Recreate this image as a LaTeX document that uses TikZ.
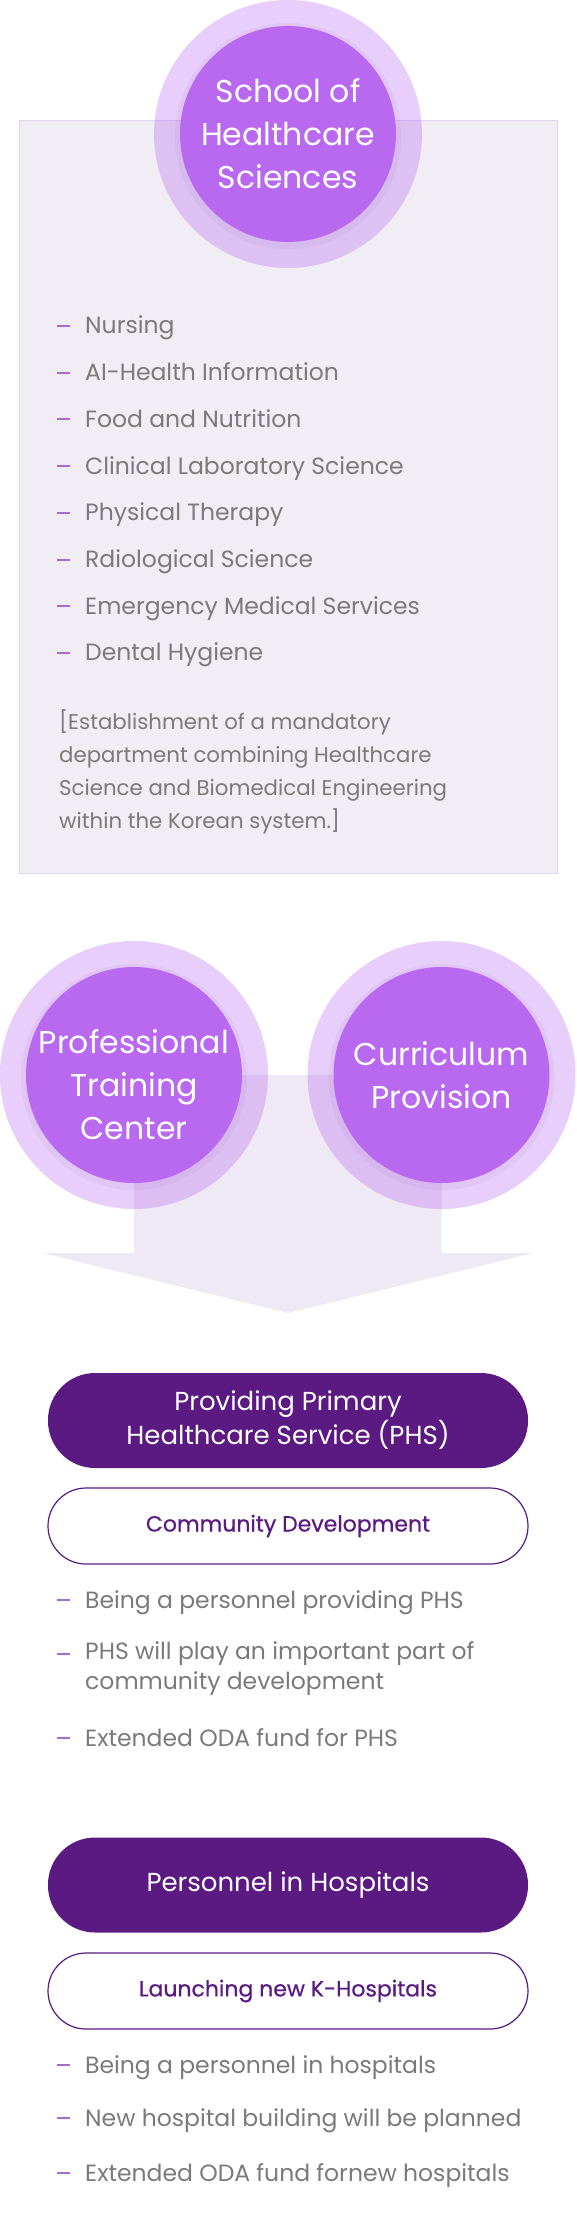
\documentclass[tikz,border=0pt]{standalone}
\usepackage{fontspec}
\setmainfont{Poppins}
\newfontfamily\medfont{Poppins}[FakeBold=0.6]
\usetikzlibrary{positioning}

\definecolor{circpurple}{RGB}{185,105,240}
\definecolor{boxlav}{RGB}{240,237,245}
\definecolor{boxedge}{RGB}{224,212,238}
\definecolor{arrowlav}{RGB}{239,233,245}
\definecolor{pilldark}{RGB}{90,26,130}
\definecolor{dashpurple}{RGB}{165,110,205}
\definecolor{itemgray}{RGB}{122,122,122}

\tikzset{
  panel/.style={draw=boxedge, fill=boxlav, line width=0.8pt, minimum width=538pt, minimum height=753pt},
  halo/.style={circle, fill=circpurple, fill opacity=0.33, minimum size=268pt, inner sep=0pt},
  glow/.style={circle, fill=circpurple!60!black, fill opacity=0.06, minimum size=226pt, inner sep=0pt},
  core/.style={circle, fill=circpurple, minimum size=216pt, inner sep=0pt},
  corelabel/.style={text=white, align=center, font=\fontsize{31.5}{43}\selectfont},
  pill/.style={rounded corners=47pt, fill=pilldark, minimum width=480pt, minimum height=95pt,
    text=white, align=center, font=\fontsize{26}{34}\selectfont},
  outpill/.style={rounded corners=38pt, draw=pilldark, line width=1.2pt, fill=white,
    minimum width=480pt, minimum height=76pt, text=pilldark, font=\medfont\fontsize{22}{25}\selectfont},
  itemtext/.style={anchor=base west, text=itemgray, font=\fontsize{23.5}{30}\selectfont, inner sep=0pt},
  dashmark/.style={draw=dashpurple, line width=2pt},
}

\begin{document}
\begin{tikzpicture}[x=1pt, y=-1pt]
  \useasboundingbox (0,0) rectangle (576,2223);

  % school panel
  \node[panel] (panel) at (288,496.5) {};
  \node[halo] (schoolhalo) at (288,134) {};
  \node[glow] (schoolglow) at (288,136) {};
  \node[core] (school) at (288,134) {};
  \node[corelabel] (schooltext) at (school.center) {School of\\Healthcare\\Sciences};

  \foreach \t [count=\i] in {Nursing, AI-Health Information, Food and Nutrition,
      Clinical Laboratory Science, Physical Therapy, Rdiological Science,
      Emergency Medical Services, Dental Hygiene} {
    \node[itemtext] (dept\i) at (85,287.3+46.7*\i) {\t};
    \draw[dashmark] (57,279.3+46.7*\i) -- (70,279.3+46.7*\i);
  }
  \node[itemtext, anchor=west, align=left, font=\fontsize{21.3}{33}\selectfont] (note) at (59,772)
    {[Establishment of a mandatory\\department combining Healthcare\\Science and Biomedical Engineering\\within the Korean system.]};

  % two sources and the arrow
  \coordinate (pc) at (134,1075);
  \coordinate (cc) at (441.5,1075);
  \fill[arrowlav] (pc) -- (cc) -- (cc |- 0,1253) -- (533,1253) -- (288,1313)
    -- (43,1253) -- (pc |- 0,1253) -- cycle;
  \node[halo] (prohalo) at (pc) {};
  \node[halo] (curhalo) at (cc) {};
  \node[glow] (proglow) at ([yshift=-2pt]pc) {};
  \node[glow] (curglow) at ([yshift=-2pt]cc) {};
  \node[core] (pro) at (pc) {};
  \node[core] (cur) at (cc) {};
  \node[corelabel] (protext) at ([yshift=-10pt]pro.center) {Professional\\Training\\Center};
  \node[corelabel] (curtext) at (cur.center) {Curriculum\\Provision};

  % primary healthcare
  \node[pill] (phs) at (288,1420.5) {Providing Primary\\Healthcare Service (PHS)};
  \node[outpill] (comm) at (288,1526) {Community Development};
  \node[itemtext] (phs1) at (85,1608) {Being a personnel providing PHS};
  \node[itemtext, anchor=west, align=left] (phs2) at (85,1669) {PHS will play an important part of\\community development};
  \node[itemtext] (phs3) at (85,1746) {Extended ODA fund for PHS};
  \foreach \y in {1600,1654,1738}
    \draw[dashmark] (57,\y) -- (70,\y);

  % hospitals
  \node[pill] (hosp) at (288,1885) {Personnel in Hospitals};
  \node[outpill] (khosp) at (288,1991) {Launching new K-Hospitals};
  \node[itemtext] (hosp1) at (85,2073) {Being a personnel in hospitals};
  \node[itemtext] (hosp2) at (85,2126) {New hospital building will be planned};
  \node[itemtext] (hosp3) at (85,2181) {Extended ODA fund fornew hospitals};
  \foreach \y in {2065,2118,2173}
    \draw[dashmark] (57,\y) -- (70,\y);
\end{tikzpicture}
\end{document}
